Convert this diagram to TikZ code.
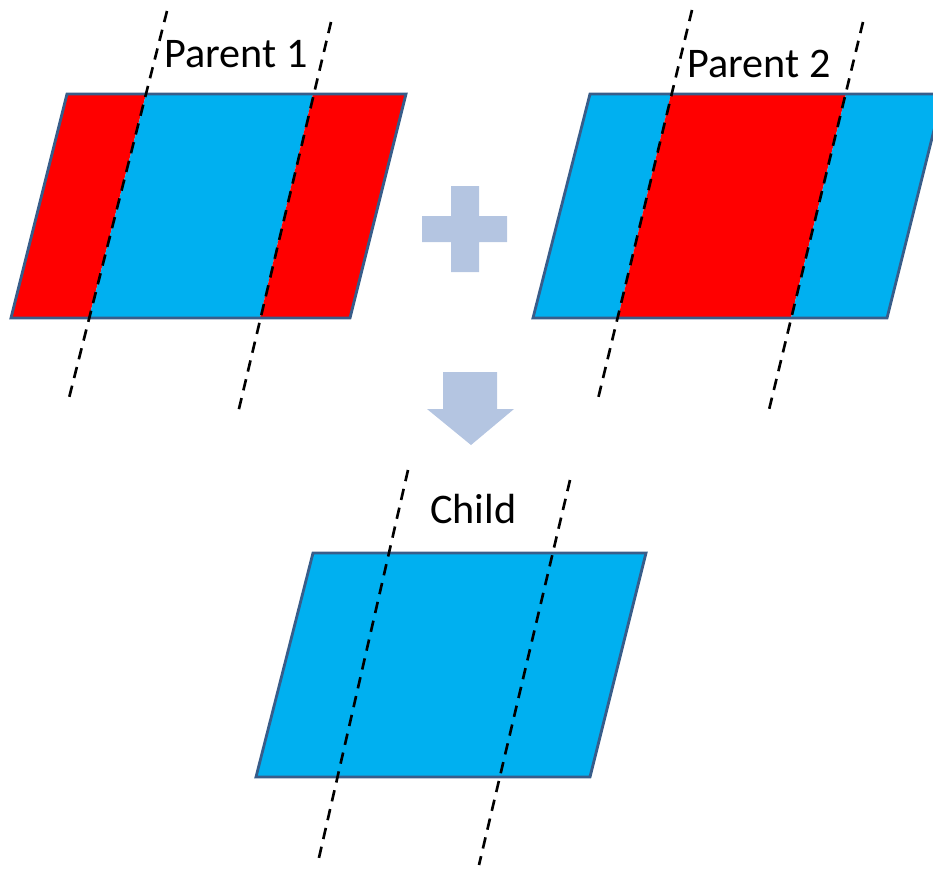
\documentclass[tikz,border=0pt]{standalone}
\usepackage{fontspec}
\setmainfont{Carlito}
\usepackage{tikz}
\definecolor{stripered}{RGB}{255,0,0}
\definecolor{stripeblue}{RGB}{0,176,240}
\definecolor{edgeblue}{RGB}{56,93,138}
\definecolor{signblue}{RGB}{180,197,225}
\tikzset{
  redpart/.style={fill=stripered, draw=none},
  bluepart/.style={fill=stripeblue, draw=none},
  outline/.style={draw=edgeblue, line width=1.6pt, line join=miter},
  cutline/.style={draw=black, line width=1.5pt, dash pattern=on 6.5pt off 4.5pt},
  sign/.style={fill=signblue, draw=none},
  caption/.style={anchor=base west, inner sep=0pt, font=\fontsize{24}{28}\selectfont}
}

\begin{document}
\begin{tikzpicture}[x=0.02cm, y=-0.02cm]
			%%%%% START %%%%%
			\useasboundingbox (0, 0) rectangle (933, 872);
			\clip (0, 0) rectangle (933, 872);
			
			% parent 1
			\fill[redpart] (67, 94) -- (146, 94) -- (89, 318) -- (11, 318) -- cycle;
			\fill[bluepart] (146, 94) -- (313, 94) -- (260, 318) -- (89, 318) -- cycle;
			\fill[redpart] (313, 94) -- (406, 94) -- (350, 318) -- (260, 318) -- cycle;
			\draw[outline] (67, 94) -- (406, 94) -- (350, 318) -- (11, 318) -- cycle;
			\draw[cutline] (167, 11) -- (68, 402);
			\draw[cutline] (331, 22) -- (238, 413);
			\node[caption] (parent1) at (164, 67) {Parent 1};
			
			% parent 2
			\fill[bluepart] (590, 94) -- (671, 94) -- (618, 318) -- (533, 318) -- cycle;
			\fill[redpart] (671, 94) -- (846, 94) -- (791, 318) -- (618, 318) -- cycle;
			\fill[bluepart] (846, 94) -- (943, 94) -- (887, 318) -- (791, 318) -- cycle;
			\draw[outline] (590, 94) -- (943, 94) -- (887, 318) -- (533, 318) -- cycle;
			\draw[cutline] (692, 10) -- (597, 403);
			\draw[cutline] (863, 22) -- (768, 414);
			\node[caption] (parent2) at (687, 77) {Parent 2};
			
			% plus and arrow
			\fill[sign] (451, 186) -- (479, 186) -- (479, 216) -- (507, 216) -- (507, 242) -- (479, 242)
			  -- (479, 272) -- (451, 272) -- (451, 242) -- (422, 242) -- (422, 216) -- (451, 216) -- cycle;
			\fill[sign] (443, 372) -- (497, 372) -- (497, 409) -- (514, 409) -- (471, 445)
			  -- (427, 409) -- (443, 409) -- cycle;
			
			% child
			\fill[bluepart] (313, 553) -- (646, 553) -- (590, 777) -- (256, 777) -- cycle;
			\draw[outline] (313, 553) -- (646, 553) -- (590, 777) -- (256, 777) -- cycle;
			\draw[cutline] (408, 470) -- (318, 862);
			\draw[cutline] (570, 480) -- (479, 865);
			\node[caption] (child) at (430, 523) {Child};
			
			%%%%% END %%%%%
		\end{tikzpicture}
\end{document}
